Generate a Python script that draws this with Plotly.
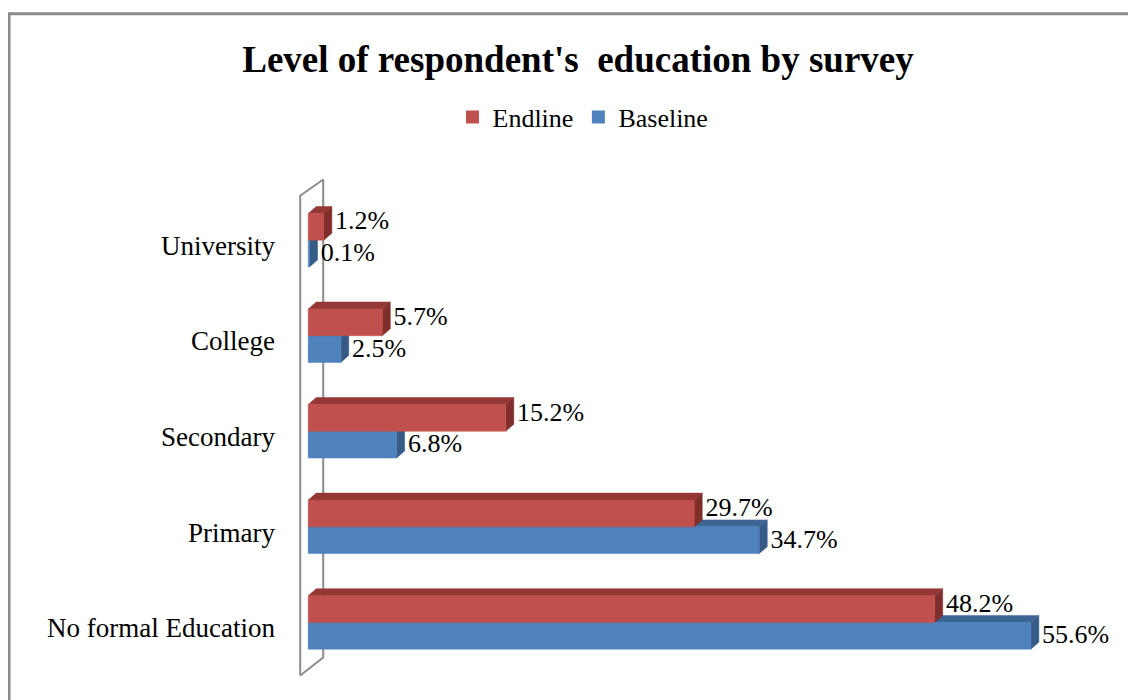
import plotly.graph_objects as go

# ---------------- data ----------------
categories = ["No formal Education", "Primary", "Secondary", "College", "University"]
endline = [48.2, 29.7, 15.2, 5.7, 1.2]
baseline = [55.6, 34.7, 6.8, 2.5, 0.1]
series_names = ["Endline", "Baseline"]

# ---------------- style ----------------
FONT = "'Liberation Serif', 'Times New Roman', serif"
RED_FRONT, RED_TOP, RED_SIDE = "#C0504D", "#953735", "#7F2E2C"
BLUE_FRONT, BLUE_TOP, BLUE_SIDE = "#4F81BD", "#3D6593", "#365B87"

BAR_W = 0.28      # thickness of each bar (category units)
SHIFT = 0.055     # boundary between the two bars, above category centre
DX = 0.62         # 3D depth along x (value units)
DY = 0.073        # 3D depth along y (category units)

X_RANGE = [-1.4, 61.0]
Y_RANGE = [-0.6, 4.8]

fig = go.Figure()


def poly(xs, ys, color):
    fig.add_trace(go.Scatter(
        x=xs + [xs[0]], y=ys + [ys[0]], mode="lines", fill="toself",
        fillcolor=color, line=dict(color=color, width=0.5),
        hoverinfo="skip", showlegend=False))


# back wall (decorative frame at the value axis)
wall_x = [-0.616, -0.616, 1.155, 1.155]
wall_y = [-0.50, 4.52, 4.69, -0.313]
fig.add_trace(go.Scatter(
    x=wall_x + [wall_x[0]], y=wall_y + [wall_y[0]], mode="lines",
    line=dict(color="#8C8C8C", width=2), hoverinfo="skip", showlegend=False))


def draw_series(values, lower_offset, front, top, side):
    for i, v in enumerate(values):
        y0 = i + lower_offset
        y1 = y0 + BAR_W
        poly([v, v + DX, v + DX, v], [y0, y0 + DY, y1 + DY, y1], side)
        poly([0, v, v + DX, DX], [y1, y1, y1 + DY, y1 + DY], top)
        poly([0, v, v, 0], [y0, y0, y1, y1], front)


draw_series(baseline, SHIFT - BAR_W, BLUE_FRONT, BLUE_TOP, BLUE_SIDE)
draw_series(endline, SHIFT, RED_FRONT, RED_TOP, RED_SIDE)

# data labels
pos = list(range(len(categories)))
LABEL_GAP = 0.25
fig.add_trace(go.Scatter(
    x=[v + DX + LABEL_GAP for v in endline], y=[p + SHIFT + BAR_W / 2 + 0.04 for p in pos],
    mode="text", text=[f"{v:.1f}%" for v in endline], textposition="middle right",
    textfont=dict(family=FONT, size=26, color="#000000"),
    hoverinfo="skip", showlegend=False, cliponaxis=False))
fig.add_trace(go.Scatter(
    x=[v + DX + LABEL_GAP for v in baseline], y=[p + SHIFT - BAR_W / 2 - 0.01 for p in pos],
    mode="text", text=[f"{v:.1f}%" for v in baseline], textposition="middle right",
    textfont=dict(family=FONT, size=26, color="#000000"),
    hoverinfo="skip", showlegend=False, cliponaxis=False))

# legend entries
fig.add_trace(go.Scatter(x=[None], y=[None], mode="markers", name=series_names[0],
                         marker=dict(symbol="square", size=13, color=RED_FRONT)))
fig.add_trace(go.Scatter(x=[None], y=[None], mode="markers", name=series_names[1],
                         marker=dict(symbol="square", size=13, color=BLUE_FRONT)))

# page offset of the figure inside the browser window (body margin)
OFF = 8

fig.update_layout(
    width=1136, height=700,
    margin=dict(l=290 - OFF, r=35 + OFF, t=168.5 - OFF, b=14.5 + OFF, pad=0),
    paper_bgcolor="white", plot_bgcolor="white",
    font=dict(family=FONT, color="#000000"),
    title=dict(text="<b>Level of respondent's  education by survey</b>",
               x=(578 - OFF) / 1136, xref="container", xanchor="center",
               y=1 - (59 - OFF) / 700, yref="container", yanchor="middle",
               font=dict(family=FONT, size=37, color="#000000")),
    legend=dict(orientation="h", x=(583 - OFF) / 1136, xanchor="center", xref="container",
                y=1 - (117 - OFF) / 700, yanchor="middle", yref="container",
                font=dict(family=FONT, size=26, color="#000000"),
                itemclick=False, traceorder="normal", itemwidth=30),
    xaxis=dict(range=X_RANGE, showgrid=False, zeroline=False, showline=False,
               showticklabels=False, fixedrange=True),
    yaxis=dict(range=Y_RANGE, showgrid=False, zeroline=False, showline=False,
               tickmode="array", tickvals=pos, ticktext=categories,
               ticks="", ticklabelstandoff=14,
               tickfont=dict(family=FONT, size=27, color="#000000"), fixedrange=True),
    shapes=[dict(type="rect", xref="paper", yref="paper",
                 x0=(9 - 290) / 811, x1=(1145 - 290) / 811,
                 y0=(685.5 - 710) / 517, y1=(685.5 - 13) / 517,
                 line=dict(color="#8A8A8A", width=3), layer="below")],
    showlegend=True,
)

fig.write_html("out.html")
